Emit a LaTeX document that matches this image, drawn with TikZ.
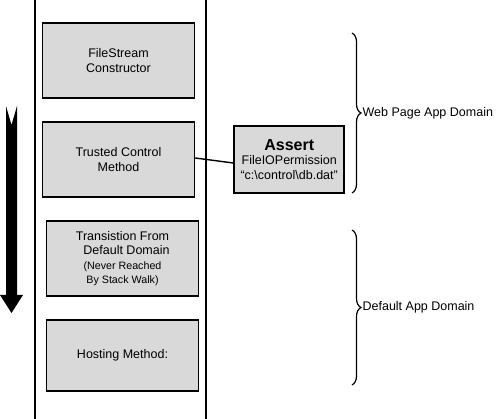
\documentclass[tikz,border=0pt]{standalone}
\usepackage{fontspec}
\setmainfont{Liberation Sans}
\usetikzlibrary{positioning,decorations.pathreplacing}

\newcommand{\boxfont}{\fontsize{12.5}{14.5}\selectfont}
\newcommand{\notefont}{\fontsize{10.7}{13}\selectfont}

\begin{document}
\begin{tikzpicture}[x=1pt, y=-1pt, node distance=99pt, auto,
    frame/.style={draw, rectangle, fill=black!15, line width=1.4pt, minimum width=152pt,
      minimum height=75pt, inner sep=0pt, align=center, font=\boxfont},
    appbrace/.style={decorate, decoration={brace, amplitude=9pt}, line width=1.2pt}]
      \useasboundingbox (0,0) rectangle (500,419);

      % stack boundaries
      \draw [line width=1.4pt] (35,0) -- (35,419);
      \draw [line width=1.4pt] (206,0) -- (206,419);

      % stack walk direction
      \fill (6,106) -- (11.5,125) -- (17,106) -- (17,295) -- (23,295) -- (11.5,313)
        -- (0,295) -- (6,295) -- cycle;

      \node (FileStream) [frame] at (118.5,60.5) {FileStream\\Constructor};
      \node (Trusted) [frame, below of=FileStream] {Trusted Control\\Method};
      \node (Transition) [frame, below of=Trusted, xshift=4pt] {Transistion From\\\hspace*{8pt}Default Domain\\{\notefont (Never Reached}\\{\notefont By Stack Walk)}};
      \node (Hosting) [frame, below of=Transition, minimum height=71pt, yshift=2pt] {Hosting Method:};
      \node (Assert) [draw, rectangle, fill=black!15, line width=2pt, minimum width=110pt,
        minimum height=67pt, inner sep=0pt, align=center, font=\boxfont, right=38pt of Trusted]
        {{\fontsize{16}{18}\selectfont\bfseries Assert}\\FileIOPermission\\“c:\textbackslash control\textbackslash db.dat”};

      \draw [line width=1.4pt] ([yshift=1.5pt]Trusted.east) -- ([yshift=-3.5pt]Assert.west);

      % app domains
      \coordinate (WebTop) at (352,33);
      \coordinate (WebBot) at (352,193);
      \coordinate (DefTop) at (352,230);
      \coordinate (DefBot) at (352,385);
      \draw [appbrace] (WebTop) -- (WebBot)
        node (WebDomain) [midway, right=10pt, inner sep=0pt, font=\boxfont] {Web Page App Domain};
      \draw [appbrace] (DefTop) -- (DefBot)
        node (DefDomain) [midway, right=10pt, inner sep=0pt, font=\boxfont] {Default App Domain};
    \end{tikzpicture}
\end{document}
